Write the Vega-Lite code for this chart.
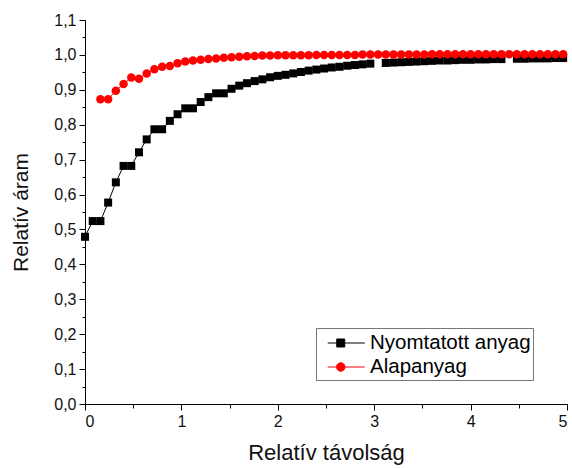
{
  "$schema": "https://vega.github.io/schema/vega-lite/v6.json",
  "autosize": "none",
  "padding": {"left": 85, "top": 20, "right": 5, "bottom": 64},
  "width": 482,
  "height": 384,
  "config": {
    "view": {"stroke": null},
    "font": "Liberation Sans",
    "axis": {"grid": false, "domainColor": "#000", "tickColor": "#000", "labelColor": "#111", "titleColor": "#111", "labelFont": "Liberation Sans", "titleFont": "Liberation Sans", "titleFontWeight": "normal"},
    "legend": {
      "title": null, "orient": "none", "legendX": 231, "legendY": 308,
      "strokeColor": "#777", "padding": 2, "labelFontSize": 20.5, "labelFont": "Liberation Sans", "labelColor": "#000", "labelLimit": 400,
      "symbolSize": 625, "symbolStrokeWidth": 1, "rowPadding": 0, "labelOffset": 26,
      "symbolStrokeColor": {"expr": "datum.value === 'Alapanyag' ? '#ff0000' : '#000000'"},
      "symbolType": {"expr": "datum.value === 'Alapanyag' ? 'M-0.26,0H0.44M1.12,0H2.7M1.12,0A0.34,0.34 0 1,1 0.44,0A0.34,0.34 0 1,1 1.12,0Z' : 'M-0.26,0H0.46M1.1,0H2.7M0.46,-0.32H1.1V0.32H0.46Z'"}
    }
  },
  "data": {"values": [
    {"x": 0.00, "y": 0.479, "s": "Nyomtatott anyag"},
    {"x": 0.08, "y": 0.524, "s": "Nyomtatott anyag"},
    {"x": 0.16, "y": 0.524, "s": "Nyomtatott anyag"},
    {"x": 0.24, "y": 0.577, "s": "Nyomtatott anyag"},
    {"x": 0.32, "y": 0.635, "s": "Nyomtatott anyag"},
    {"x": 0.40, "y": 0.682, "s": "Nyomtatott anyag"},
    {"x": 0.48, "y": 0.682, "s": "Nyomtatott anyag"},
    {"x": 0.56, "y": 0.721, "s": "Nyomtatott anyag"},
    {"x": 0.64, "y": 0.758, "s": "Nyomtatott anyag"},
    {"x": 0.72, "y": 0.787, "s": "Nyomtatott anyag"},
    {"x": 0.80, "y": 0.787, "s": "Nyomtatott anyag"},
    {"x": 0.88, "y": 0.811, "s": "Nyomtatott anyag"},
    {"x": 0.96, "y": 0.830, "s": "Nyomtatott anyag"},
    {"x": 1.04, "y": 0.847, "s": "Nyomtatott anyag"},
    {"x": 1.12, "y": 0.847, "s": "Nyomtatott anyag"},
    {"x": 1.20, "y": 0.865, "s": "Nyomtatott anyag"},
    {"x": 1.28, "y": 0.879, "s": "Nyomtatott anyag"},
    {"x": 1.36, "y": 0.890, "s": "Nyomtatott anyag"},
    {"x": 1.44, "y": 0.890, "s": "Nyomtatott anyag"},
    {"x": 1.52, "y": 0.903, "s": "Nyomtatott anyag"},
    {"x": 1.60, "y": 0.912, "s": "Nyomtatott anyag"},
    {"x": 1.68, "y": 0.919, "s": "Nyomtatott anyag"},
    {"x": 1.76, "y": 0.925, "s": "Nyomtatott anyag"},
    {"x": 1.84, "y": 0.930, "s": "Nyomtatott anyag"},
    {"x": 1.92, "y": 0.936, "s": "Nyomtatott anyag"},
    {"x": 2.00, "y": 0.940, "s": "Nyomtatott anyag"},
    {"x": 2.08, "y": 0.943, "s": "Nyomtatott anyag"},
    {"x": 2.16, "y": 0.947, "s": "Nyomtatott anyag"},
    {"x": 2.24, "y": 0.951, "s": "Nyomtatott anyag"},
    {"x": 2.32, "y": 0.955, "s": "Nyomtatott anyag"},
    {"x": 2.40, "y": 0.958, "s": "Nyomtatott anyag"},
    {"x": 2.48, "y": 0.961, "s": "Nyomtatott anyag"},
    {"x": 2.56, "y": 0.964, "s": "Nyomtatott anyag"},
    {"x": 2.64, "y": 0.966, "s": "Nyomtatott anyag"},
    {"x": 2.72, "y": 0.969, "s": "Nyomtatott anyag"},
    {"x": 2.80, "y": 0.971, "s": "Nyomtatott anyag"},
    {"x": 2.88, "y": 0.973, "s": "Nyomtatott anyag"},
    {"x": 2.96, "y": 0.975, "s": "Nyomtatott anyag"},
    {"x": 3.04, "y": null, "s": "Nyomtatott anyag"},
    {"x": 3.12, "y": 0.977, "s": "Nyomtatott anyag"},
    {"x": 3.20, "y": 0.978, "s": "Nyomtatott anyag"},
    {"x": 3.28, "y": 0.979, "s": "Nyomtatott anyag"},
    {"x": 3.36, "y": 0.980, "s": "Nyomtatott anyag"},
    {"x": 3.44, "y": 0.981, "s": "Nyomtatott anyag"},
    {"x": 3.52, "y": 0.982, "s": "Nyomtatott anyag"},
    {"x": 3.60, "y": 0.983, "s": "Nyomtatott anyag"},
    {"x": 3.68, "y": 0.984, "s": "Nyomtatott anyag"},
    {"x": 3.76, "y": 0.984, "s": "Nyomtatott anyag"},
    {"x": 3.84, "y": 0.985, "s": "Nyomtatott anyag"},
    {"x": 3.92, "y": 0.986, "s": "Nyomtatott anyag"},
    {"x": 4.00, "y": 0.986, "s": "Nyomtatott anyag"},
    {"x": 4.08, "y": 0.987, "s": "Nyomtatott anyag"},
    {"x": 4.16, "y": 0.987, "s": "Nyomtatott anyag"},
    {"x": 4.24, "y": 0.988, "s": "Nyomtatott anyag"},
    {"x": 4.32, "y": 0.988, "s": "Nyomtatott anyag"},
    {"x": 4.40, "y": null, "s": "Nyomtatott anyag"},
    {"x": 4.48, "y": 0.989, "s": "Nyomtatott anyag"},
    {"x": 4.56, "y": 0.989, "s": "Nyomtatott anyag"},
    {"x": 4.64, "y": 0.990, "s": "Nyomtatott anyag"},
    {"x": 4.72, "y": 0.990, "s": "Nyomtatott anyag"},
    {"x": 4.80, "y": 0.990, "s": "Nyomtatott anyag"},
    {"x": 4.88, "y": 0.991, "s": "Nyomtatott anyag"},
    {"x": 4.96, "y": 0.991, "s": "Nyomtatott anyag"},
    {"x": 0.16, "y": 0.873, "s": "Alapanyag"},
    {"x": 0.24, "y": 0.873, "s": "Alapanyag"},
    {"x": 0.32, "y": 0.897, "s": "Alapanyag"},
    {"x": 0.40, "y": 0.917, "s": "Alapanyag"},
    {"x": 0.48, "y": 0.935, "s": "Alapanyag"},
    {"x": 0.56, "y": 0.932, "s": "Alapanyag"},
    {"x": 0.64, "y": 0.947, "s": "Alapanyag"},
    {"x": 0.72, "y": 0.959, "s": "Alapanyag"},
    {"x": 0.80, "y": 0.966, "s": "Alapanyag"},
    {"x": 0.88, "y": 0.968, "s": "Alapanyag"},
    {"x": 0.96, "y": 0.976, "s": "Alapanyag"},
    {"x": 1.04, "y": 0.981, "s": "Alapanyag"},
    {"x": 1.12, "y": 0.984, "s": "Alapanyag"},
    {"x": 1.20, "y": 0.986, "s": "Alapanyag"},
    {"x": 1.28, "y": 0.988, "s": "Alapanyag"},
    {"x": 1.36, "y": 0.990, "s": "Alapanyag"},
    {"x": 1.44, "y": 0.992, "s": "Alapanyag"},
    {"x": 1.52, "y": 0.993, "s": "Alapanyag"},
    {"x": 1.60, "y": 0.995, "s": "Alapanyag"},
    {"x": 1.68, "y": 0.996, "s": "Alapanyag"},
    {"x": 1.76, "y": 0.997, "s": "Alapanyag"},
    {"x": 1.84, "y": 0.998, "s": "Alapanyag"},
    {"x": 1.92, "y": 0.998, "s": "Alapanyag"},
    {"x": 2.00, "y": 0.999, "s": "Alapanyag"},
    {"x": 2.08, "y": 0.999, "s": "Alapanyag"},
    {"x": 2.16, "y": 0.999, "s": "Alapanyag"},
    {"x": 2.24, "y": 0.999, "s": "Alapanyag"},
    {"x": 2.32, "y": 0.999, "s": "Alapanyag"},
    {"x": 2.40, "y": 1.000, "s": "Alapanyag"},
    {"x": 2.48, "y": 1.000, "s": "Alapanyag"},
    {"x": 2.56, "y": 1.000, "s": "Alapanyag"},
    {"x": 2.64, "y": 1.000, "s": "Alapanyag"},
    {"x": 2.72, "y": 1.000, "s": "Alapanyag"},
    {"x": 2.80, "y": 1.000, "s": "Alapanyag"},
    {"x": 2.88, "y": 1.001, "s": "Alapanyag"},
    {"x": 2.96, "y": 1.001, "s": "Alapanyag"},
    {"x": 3.04, "y": 1.001, "s": "Alapanyag"},
    {"x": 3.12, "y": 1.001, "s": "Alapanyag"},
    {"x": 3.20, "y": 1.001, "s": "Alapanyag"},
    {"x": 3.28, "y": 1.001, "s": "Alapanyag"},
    {"x": 3.36, "y": 1.001, "s": "Alapanyag"},
    {"x": 3.44, "y": 1.001, "s": "Alapanyag"},
    {"x": 3.52, "y": 1.001, "s": "Alapanyag"},
    {"x": 3.60, "y": 1.002, "s": "Alapanyag"},
    {"x": 3.68, "y": 1.002, "s": "Alapanyag"},
    {"x": 3.76, "y": 1.002, "s": "Alapanyag"},
    {"x": 3.84, "y": 1.002, "s": "Alapanyag"},
    {"x": 3.92, "y": 1.002, "s": "Alapanyag"},
    {"x": 4.00, "y": 1.002, "s": "Alapanyag"},
    {"x": 4.08, "y": 1.002, "s": "Alapanyag"},
    {"x": 4.16, "y": 1.002, "s": "Alapanyag"},
    {"x": 4.24, "y": 1.002, "s": "Alapanyag"},
    {"x": 4.32, "y": 1.002, "s": "Alapanyag"},
    {"x": 4.40, "y": 1.002, "s": "Alapanyag"},
    {"x": 4.48, "y": 1.002, "s": "Alapanyag"},
    {"x": 4.56, "y": 1.002, "s": "Alapanyag"},
    {"x": 4.64, "y": 1.002, "s": "Alapanyag"},
    {"x": 4.72, "y": 1.002, "s": "Alapanyag"},
    {"x": 4.80, "y": 1.002, "s": "Alapanyag"},
    {"x": 4.88, "y": 1.002, "s": "Alapanyag"},
    {"x": 4.96, "y": 1.002, "s": "Alapanyag"}
  ]},
  "resolve": {"axis": {"x": "independent", "y": "independent"}},
  "layer": [
    {
      "transform": [{"filter": "datum.s === 'Nyomtatott anyag'"}],
      "mark": {"type": "line", "color": "#000000", "strokeWidth": 1, "clip": false},
      "encoding": {
        "x": {"field": "x", "type": "quantitative", "scale": {"domain": [0, 5], "nice": false},
              "axis": {"orient": "bottom", "values": [0.5, 1.5, 2.5, 3.5, 4.5], "labels": false, "domain": false, "tickSize": 4, "title": null}},
        "y": {"field": "y", "type": "quantitative", "scale": {"domain": [0, 1.1], "nice": false},
              "axis": {"orient": "left", "values": [0.05, 0.15, 0.25, 0.35, 0.45, 0.55, 0.65, 0.75, 0.85, 0.95, 1.05], "labels": false, "domain": false, "tickSize": 3, "title": null}}
      }
    },
    {
      "transform": [{"filter": "datum.s === 'Alapanyag'"}],
      "mark": {"type": "line", "color": "#ff0000", "strokeWidth": 1, "clip": false},
      "encoding": {
        "x": {"field": "x", "type": "quantitative", "axis": null},
        "y": {"field": "y", "type": "quantitative", "axis": null}
      }
    },
    {
      "transform": [{"filter": "datum.s === 'Nyomtatott anyag'"}],
      "mark": {"type": "point", "shape": "square", "filled": true, "opacity": 1, "size": 64, "clip": false},
      "encoding": {
        "x": {"field": "x", "type": "quantitative",
              "axis": {"orient": "bottom", "values": [0, 1, 2, 3, 4, 5], "format": "d", "tickSize": 6, "labelFontSize": 16, "labelPadding": 3,
                       "title": "Relatív távolság", "titleFontSize": 22, "titlePadding": 13}},
        "y": {"field": "y", "type": "quantitative",
              "axis": {"orient": "left", "values": [0, 0.1, 0.2, 0.3, 0.4, 0.5, 0.6, 0.7, 0.8, 0.9, 1.0, 1.1],
                       "labelExpr": "replace(format(datum.value, '.1f'), '.', ',')", "tickSize": 6, "labelFontSize": 16, "labelPadding": 3,
                       "title": "Relatív áram", "titleFontSize": 21, "titlePadding": 22}},
        "color": {"field": "s", "type": "nominal",
                  "scale": {"domain": ["Nyomtatott anyag", "Alapanyag"], "range": ["#000000", "#ff0000"]},
                  "legend": {"encode": {"symbols": {
                               "stroke": {"value": {"expr": "datum.value === 'Alapanyag' ? '#ff0000' : '#000000'"}},
                               "strokeWidth": {"value": 1}}}}}
      }
    },
    {
      "transform": [{"filter": "datum.s === 'Alapanyag'"}],
      "mark": {"type": "point", "shape": "circle", "filled": true, "opacity": 1, "size": 72, "clip": false},
      "encoding": {
        "x": {"field": "x", "type": "quantitative", "axis": null},
        "y": {"field": "y", "type": "quantitative", "axis": null},
        "color": {"field": "s", "type": "nominal",
                  "legend": {"encode": {"symbols": {
                               "stroke": {"value": {"expr": "datum.value === 'Alapanyag' ? '#ff0000' : '#000000'"}},
                               "strokeWidth": {"value": 1}}}}}
      }
    }
  ]
}
